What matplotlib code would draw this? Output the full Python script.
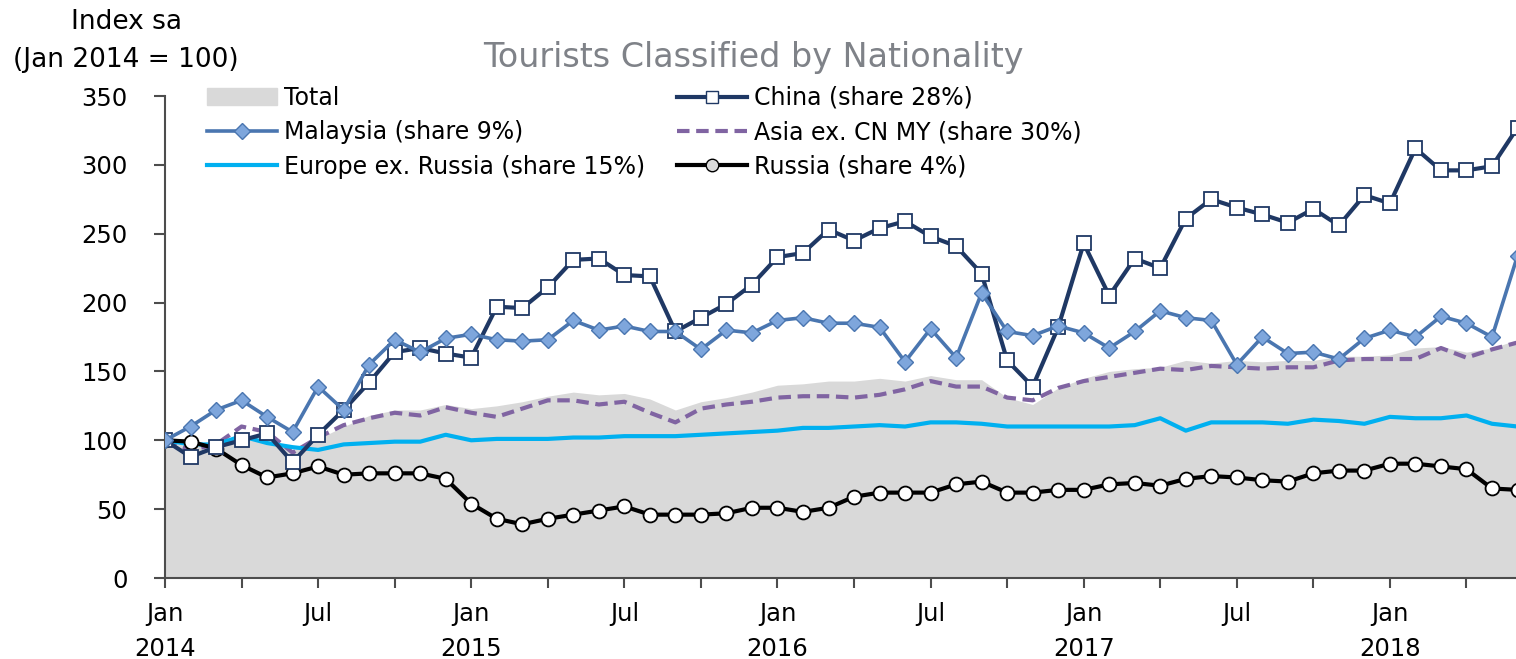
import matplotlib
matplotlib.use("Agg")
import matplotlib.pyplot as plt
from matplotlib.lines import Line2D
from matplotlib.patches import Patch

# monthly index, Jan 2014 .. Jun 2018 (Jan 2014 = 100)
months = list(range(54))
total = [100, 95, 97, 104, 102, 93, 101, 110, 118, 122,
         122, 126, 123, 125, 128, 132, 135, 133, 134, 130,
         122, 128, 131, 135, 140, 141, 143, 143, 145, 143,
         147, 144, 144, 131, 126, 138, 145, 150, 152, 153,
         158, 156, 158, 157, 158, 158, 161, 161, 162, 167,
         168, 164, 167, 173]
china = [100, 88, 95, 100, 105, 84, 104, 122, 142, 164,
         167, 163, 160, 197, 196, 211, 231, 232, 220, 219,
         179, 189, 199, 213, 233, 236, 253, 245, 254, 259,
         248, 241, 221, 158, 139, 182, 243, 205, 232, 225,
         261, 275, 269, 264, 258, 268, 256, 278, 272, 312,
         296, 296, 299, 327]
malaysia = [100, 110, 122, 129, 117, 106, 139, 122, 155, 173,
            164, 174, 177, 173, 172, 173, 187, 180, 183, 179,
            179, 166, 180, 178, 187, 189, 185, 185, 182, 157,
            181, 160, 207, 179, 176, 183, 178, 167, 179, 194,
            189, 187, 155, 175, 163, 164, 159, 174, 180, 175,
            190, 185, 175, 234]
asia = [100, 93, 97, 110, 106, 91, 102, 111, 116, 120,
        118, 124, 120, 117, 123, 129, 129, 126, 128, 120,
        113, 123, 126, 128, 131, 132, 132, 131, 133, 137,
        143, 139, 139, 131, 129, 138, 143, 146, 149, 152,
        151, 154, 153, 152, 153, 153, 158, 159, 159, 159,
        167, 160, 166, 171]
europe = [100, 97, 97, 103, 98, 95, 93, 97, 98, 99,
          99, 104, 100, 101, 101, 101, 102, 102, 103, 103,
          103, 104, 105, 106, 107, 109, 109, 110, 111, 110,
          113, 113, 112, 110, 110, 110, 110, 110, 111, 116,
          107, 113, 113, 113, 112, 115, 114, 112, 117, 116,
          116, 118, 112, 110]
russia = [100, 99, 94, 82, 73, 76, 81, 75, 76, 76,
          76, 72, 54, 43, 39, 43, 46, 49, 52, 46,
          46, 46, 47, 51, 51, 48, 51, 59, 62, 62,
          62, 68, 70, 62, 62, 64, 64, 68, 69, 67,
          72, 74, 73, 71, 70, 76, 78, 78, 83, 83,
          81, 79, 65, 64]

tick_pos = list(range(0, 54, 3))
tick_labels = ["Jan\n2014", "", "Jul", "",
               "Jan\n2015", "", "Jul", "",
               "Jan\n2016", "", "Jul", "",
               "Jan\n2017", "", "Jul", "",
               "Jan\n2018", ""]

plt.rcParams["font.family"] = "DejaVu Sans"
FS_TICK = 17.5
FS_LEG = 17

W, H = 1516, 659
fig = plt.figure(figsize=(W / 100, H / 100), dpi=100)
ax = fig.add_axes([165 / W, (H - 578) / H, (W - 165) / W, (578 - 96) / H])

c_china = "#1F3864"
c_malay = "#4A76B0"
c_asia = "#8064A2"
c_europe = "#00B0F0"
c_total = "#D9D9D9"
c_axis = "#4D4D4D"

ax.fill_between(months, 0, total, color=c_total, lw=0, zorder=1)
ax.plot(months, asia, color=c_asia, lw=3, ls=(0, (3, 1.6)), zorder=2)
ax.plot(months, europe, color=c_europe, lw=3, zorder=3)
ax.plot(months, russia, color="black", lw=3, marker="o", ms=10,
        mfc="white", mec="black", mew=1.3, zorder=4)
ax.plot(months, china, color=c_china, lw=3, marker="s", ms=10.5,
        mfc="white", mec=c_china, mew=1.3, zorder=5)
ax.plot(months, malaysia, color=c_malay, lw=2.6, marker="D", ms=8,
        mfc="#7EA6DC", mec=c_malay, mew=1, zorder=6)

ax.set_xlim(0, 52.94)
ax.set_ylim(0, 350)
ax.set_yticks(range(0, 351, 50))
ax.set_xticks(tick_pos)
ax.set_xticklabels(tick_labels)
for lbl in ax.get_xticklabels():
    lbl.set_linespacing(1.6)

for s in ["top", "right"]:
    ax.spines[s].set_visible(False)
for s in ["left", "bottom"]:
    ax.spines[s].set_color(c_axis)
    ax.spines[s].set_linewidth(1.5)
ax.tick_params(axis="y", length=8, width=1.5, color=c_axis, pad=19, labelsize=FS_TICK)
ax.tick_params(axis="x", length=7, width=1.5, color=c_axis, pad=10, labelsize=FS_TICK)

# legend in two separate blocks
h1 = [Patch(color=c_total),
      Line2D([], [], color=c_malay, lw=2.6, marker="D", ms=8, mfc="#7EA6DC", mec=c_malay),
      Line2D([], [], color=c_europe, lw=3)]
l1 = ["Total", "Malaysia (share 9%)", "Europe ex. Russia (share 15%)"]
h2 = [Line2D([], [], color=c_china, lw=3, marker="s", ms=9, mfc="white", mec=c_china),
      Line2D([], [], color=c_asia, lw=3, ls=(0, (3, 1.6))),
      Line2D([], [], color="black", lw=3, marker="o", ms=9, mfc="#D9D9D9", mec="black")]
l2 = ["China (share 28%)", "Asia ex. CN MY (share 30%)", "Russia (share 4%)"]

common = dict(frameon=False, fontsize=FS_LEG, handlelength=2.95, handleheight=0.75,
              handletextpad=0.3, labelspacing=0.44, borderpad=0, borderaxespad=0,
              loc="upper left", bbox_transform=fig.transFigure)
leg1 = ax.legend(h1, l1, bbox_to_anchor=(207 / W, 1 - 86 / H), **common)
ax.add_artist(leg1)
ax.legend(h2, l2, bbox_to_anchor=(677 / W, 1 - 86 / H), **common)

fig.text(753 / W, 1 - 58 / H, "Tourists Classified by Nationality", color="#7F8288",
         fontsize=24, ha="center", va="center")
fig.text(126 / W, 1 - 22 / H, "Index sa", fontsize=19, ha="center", va="center")
fig.text(126 / W, 1 - 60 / H, "(Jan 2014 = 100)", fontsize=19, ha="center", va="center")

fig.savefig("out.png", dpi=100)
